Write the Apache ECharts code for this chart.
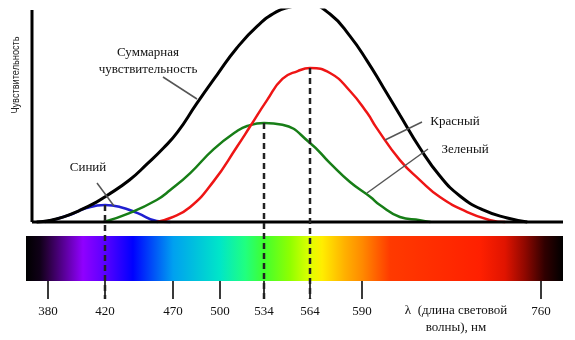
<!DOCTYPE html>
<html><head><meta charset="utf-8">
<script src="https://cdn.jsdelivr.net/npm/echarts@6/dist/echarts.min.js"></script>
<style>html,body{margin:0;padding:0;background:#fff}#c{width:575px;height:340px}</style>
</head><body><div id="c"></div>
<script>
// ---- DATA ----
// wavelength tick labels (nm)
const tickNm = [380, 420, 470, 500, 534, 564, 590, 760];
// peak wavelengths of the three cone types (nm)
const peakBlue = 420, peakGreen = 534, peakRed = 564;
// curves: [wavelength nm, relative sensitivity]
const totalCurve = [[372,0],[381,0.7],[391,2.4],[402,5.4],[414,9.4],[421,12.3],[438,19.8],[451,27.4],[463,34.9],[473,42.5],[485,55.7],[498,69.3],[513,82.1],[529,92.5],[542,99.1],[551,101.4],[559,102.4],[564,102.4],[574,98.1],[584,87.7],[595,75.9],[610,63.7],[626,50.5],[645,34.9],[664,21.7],[683,12.3],[705,5.7],[728,1.9],[747,0]];
const redCurve = [[458,0],[468,1.9],[481,7.1],[496,19.3],[513,35.4],[523,44.8],[536,57.5],[546,67.5],[556,71.2],[564,72.6],[574,70.3],[584,61.8],[595,51.4],[604,44.3],[626,29.2],[645,19.8],[664,11.8],[690,4.7],[712,0.9],[726,0]];
const greenCurve = [[419,0],[438,4.2],[458,10.4],[468,15.1],[481,23.1],[496,34.4],[513,42.8],[521,45.3],[534,46.7],[546,45.9],[564,37.3],[574,27.8],[584,18.9],[598,11.8],[607,8],[626,2.4],[645,0.9],[655,0]];
const blueCurve = [[378,0],[395,3.3],[407,6.6],[420,8],[431,7.1],[444,4.2],[458,0.5],[468,0]];
const labelTotal = 'Суммарная\nчувствительность';
const labelRed = 'Красный', labelGreen = 'Зеленый', labelBlue = 'Синий';
const yTitle = 'Чувствительность';
const xTitle = 'λ  (длина световой\nволны), нм';

// ---- SCALE (non-uniform drawing scale of the original wavelength axis) ----
const axisStops = [16, 73, 141, 188, 232, 278, 330, 509];
const X_MIN = -6, X0 = 0, X_MAX = 531, Y_MIN = -36.3, Y_MAX = 100;
const BAND_TOP = -6.6, BAND_BOTTOM = -27.8; // spectrum strip, in y-axis units
function warp(nm){
  const n = tickNm.length;
  let i = 0;
  if (nm <= tickNm[0]) i = 0;
  else if (nm >= tickNm[n-1]) i = n-2;
  else { while (nm > tickNm[i+1]) i++; }
  const t = (nm - tickNm[i]) / (tickNm[i+1] - tickNm[i]);
  return axisStops[i] + t * (axisStops[i+1] - axisStops[i]);
}
const W = c => c.map(p => [warp(p[0]), p[1]]);
const valAt = (curve, nm) => curve.find(p => p[0] === nm)[1];

const chart = echarts.init(document.getElementById('c'), null, {renderer:'canvas'});
const lineS = (name, data, color, w) => ({
  name, type:'line', data: W(data), smooth: 0.5, symbol:'none',
  lineStyle:{color, width:w}, silent:true, z:5
});
const solidS = (data) => ({
  type:'line', data, symbol:'none', silent:true, clip:false, z:15, lineStyle:{color:'#000', width:3}
});
const serif = "'Liberation Serif','Times New Roman',serif";
const spectrum = {type:'linear', x:0, y:0, x2:1, y2:0, colorStops:[
  {offset:0, color:'#000000'},{offset:0.026, color:'#100018'},{offset:0.041, color:'#2a0040'},
  {offset:0.106, color:'#9000ff'},{offset:0.147, color:'#5a00ff'},{offset:0.199, color:'#0000ff'},
  {offset:0.274, color:'#00a0f0'},{offset:0.361, color:'#00e6c8'},{offset:0.408, color:'#20ff80'},
  {offset:0.443, color:'#40ff30'},{offset:0.492, color:'#90ff00'},{offset:0.529, color:'#e0ff00'},
  {offset:0.551, color:'#ffee00'},{offset:0.594, color:'#ffb000'},{offset:0.626, color:'#ff8a00'},
  {offset:0.678, color:'#ff3a00'},{offset:0.845, color:'#ff2000'},{offset:0.892, color:'#e01400'},
  {offset:0.929, color:'#900800'},{offset:0.966, color:'#300000'},{offset:1, color:'#000000'}]};

const baseGraphic = [
  {type:'text', z:10, x:16, y:75, rotation:Math.PI/2, scaleX:0.8, style:{text:yTitle, fontFamily:"'Liberation Sans','DejaVu Sans',sans-serif", fontSize:11.5, fill:'#222', align:'center', verticalAlign:'middle'}},
  {type:'text', z:10, x:148, y:61, style:{text:labelTotal, fontFamily:serif, fontSize:13, lineHeight:17, fill:'#111', align:'center', verticalAlign:'middle'}},
  {type:'line', z:10, shape:{x1:163, y1:77, x2:197, y2:99}, style:{stroke:'#555', lineWidth:1.5}},
  {type:'text', z:10, x:88, y:168, style:{text:labelBlue, fontFamily:serif, fontSize:13, fill:'#111', align:'center', verticalAlign:'middle'}},
  {type:'line', z:10, shape:{x1:97, y1:183, x2:114, y2:206}, style:{stroke:'#555', lineWidth:1.5}},
  {type:'text', z:10, x:455, y:122, style:{text:labelRed, fontFamily:serif, fontSize:13, fill:'#111', align:'center', verticalAlign:'middle'}},
  {type:'line', z:10, shape:{x1:422, y1:122, x2:385, y2:140}, style:{stroke:'#555', lineWidth:1.5}},
  {type:'text', z:10, x:465, y:150, style:{text:labelGreen, fontFamily:serif, fontSize:13, fill:'#111', align:'center', verticalAlign:'middle'}},
  {type:'line', z:10, shape:{x1:428, y1:149, x2:367, y2:193}, style:{stroke:'#555', lineWidth:1.5}},
  {type:'text', z:10, x:456, y:319, style:{text:xTitle, fontFamily:serif, fontSize:13, lineHeight:17, fill:'#111', align:'center', verticalAlign:'middle'}}
];

const option = {
  animation:false,
  backgroundColor:'#fff',
  grid:{left:26, right:12, top:10, bottom:41},
  xAxis:{type:'value', min:X_MIN, max:X_MAX,
    axisLine:{show:false, onZero:false}, splitLine:{show:false},
    axisTick:{show:true, inside:true, length:18, customValues: tickNm.map(warp), lineStyle:{color:'#3a3a3a', width:2}},
    axisLabel:{show:true, margin:6, customValues: tickNm.map(warp), color:'#111', fontFamily:serif, fontSize:13,
      formatter: v => { let k=0, best=1e9; tickNm.forEach((t,i)=>{const d=Math.abs(warp(t)-v); if(d<best){best=d;k=i;}}); return String(tickNm[k]); }}
  },
  yAxis:{type:'value', min:Y_MIN, max:Y_MAX, axisLine:{show:false}, axisTick:{show:false}, axisLabel:{show:false}, splitLine:{show:false}},
  series:[
    {type:'line', data:[], silent:true, z:0,
      markArea:{silent:true, z:0, label:{show:false}, itemStyle:{color:spectrum, borderWidth:0},
        data:[[{coord:[X_MIN, BAND_TOP]},{coord:[X_MAX, BAND_BOTTOM]}]]}},
    lineS(labelBlue, blueCurve, '#1f1fd0', 2.5),
    lineS(labelGreen, greenCurve, '#177e17', 2.5),
    lineS(labelRed, redCurve, '#ee1515', 2.5),
    lineS(labelTotal.replace('\n',' '), totalCurve, '#000', 3),
    solidS([[X0,0],[X_MAX,0]]),
    solidS([[X0,0],[X0,Y_MAX]])
  ],
  graphic: baseGraphic
};
chart.setOption(option);

// dashed drop lines from the three peaks, positioned through the chart's own scales
const drops = [[blueCurve, peakBlue], [greenCurve, peakGreen], [redCurve, peakRed]].map(([curve, nm]) => {
  const a = chart.convertToPixel({gridIndex:0}, [warp(nm), valAt(curve, nm)]);
  const b = chart.convertToPixel({gridIndex:0}, [warp(nm), Y_MIN]);
  return {type:'line', zlevel:2, z:100, silent:true,
    shape:{x1:Math.round(a[0]), y1:a[1], x2:Math.round(b[0]), y2:b[1]},
    style:{stroke:'#222222', lineWidth:2.5, lineDash:[6,4]}};
});
chart.setOption({graphic: baseGraphic.concat(drops)});
</script></body></html>
